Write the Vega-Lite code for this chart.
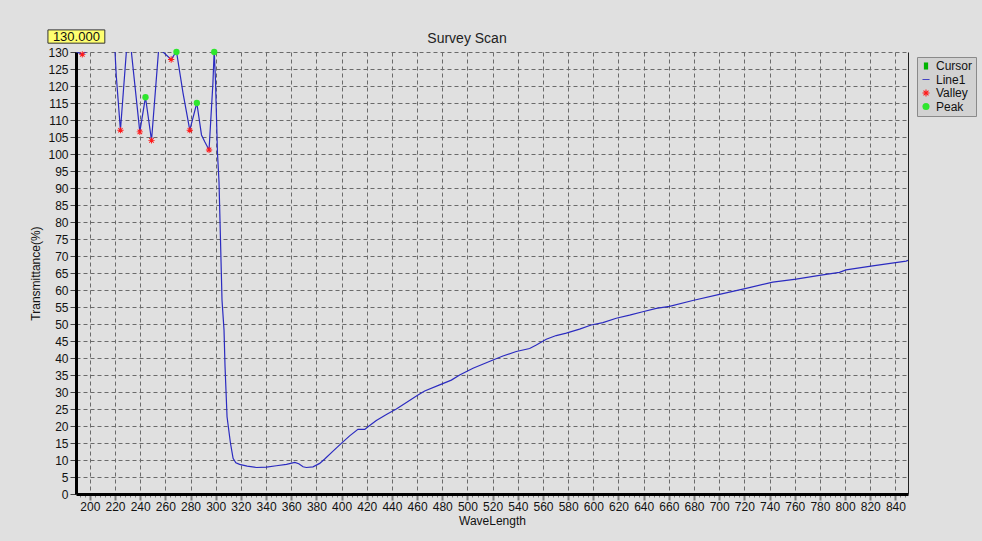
{
  "$schema": "https://vega.github.io/schema/vega-lite/v6.json",
  "autosize": {"type": "none"},
  "width": 832,
  "height": 442,
  "padding": {"left": 76, "top": 52, "right": 74, "bottom": 47},
  "background": "#e0e0e0",
  "config": {
    "font": "Liberation Sans",
    "view": {"stroke": null},
    "axis": {"labelFont": "Liberation Sans", "titleFont": "Liberation Sans", "labelColor": "#111", "titleColor": "#111", "titleFontWeight": "normal"}
  },
  "title": {"text": "Survey Scan", "fontSize": 14, "fontWeight": "normal", "color": "#222", "anchor": "middle", "dx": -25, "dy": 23, "offset": 6},
  "datasets": {
    "curve": [
      {"wl": 189, "t": 130.2},
      {"wl": 191, "t": 129.8},
      {"wl": 194, "t": 129.3},
      {"wl": 197, "t": 130.1},
      {"wl": 200, "t": 132},
      {"wl": 210, "t": 138},
      {"wl": 218, "t": 133},
      {"wl": 220, "t": 130},
      {"wl": 221, "t": 123},
      {"wl": 224.3, "t": 107},
      {"wl": 229, "t": 130},
      {"wl": 231, "t": 134},
      {"wl": 233, "t": 130},
      {"wl": 239.7, "t": 106.5},
      {"wl": 244.2, "t": 116.7},
      {"wl": 249, "t": 104},
      {"wl": 254.5, "t": 130},
      {"wl": 256, "t": 131},
      {"wl": 258.2, "t": 130},
      {"wl": 264.6, "t": 127.8},
      {"wl": 268.8, "t": 130.2},
      {"wl": 274, "t": 118},
      {"wl": 279.4, "t": 107},
      {"wl": 285, "t": 115},
      {"wl": 288.7, "t": 105.6},
      {"wl": 291.3, "t": 103.6},
      {"wl": 294.7, "t": 101.2},
      {"wl": 297.8, "t": 121},
      {"wl": 298.8, "t": 130.5},
      {"wl": 299.8, "t": 121.8},
      {"wl": 300.6, "t": 111},
      {"wl": 301.4, "t": 100.2},
      {"wl": 302.6, "t": 92},
      {"wl": 303.8, "t": 74.7},
      {"wl": 305, "t": 57},
      {"wl": 306.6, "t": 48.2},
      {"wl": 307.4, "t": 37.5},
      {"wl": 309, "t": 22.7},
      {"wl": 311.7, "t": 15},
      {"wl": 313.8, "t": 10.5},
      {"wl": 316, "t": 9.2},
      {"wl": 319, "t": 8.7},
      {"wl": 325, "t": 8.2},
      {"wl": 332.4, "t": 7.8},
      {"wl": 340.3, "t": 7.9},
      {"wl": 348.2, "t": 8.3},
      {"wl": 356.2, "t": 8.7},
      {"wl": 362.8, "t": 9.3},
      {"wl": 366, "t": 8.9},
      {"wl": 369.4, "t": 8.0},
      {"wl": 372, "t": 7.8},
      {"wl": 377.3, "t": 8.0},
      {"wl": 382.6, "t": 9.0},
      {"wl": 386.6, "t": 10.3},
      {"wl": 393.2, "t": 12.6},
      {"wl": 399.8, "t": 14.9},
      {"wl": 406.4, "t": 17.1},
      {"wl": 413, "t": 19.0},
      {"wl": 418.4, "t": 19.0},
      {"wl": 421, "t": 19.8},
      {"wl": 427.6, "t": 21.6},
      {"wl": 435.6, "t": 23.4},
      {"wl": 443.5, "t": 25.0},
      {"wl": 451.5, "t": 26.9},
      {"wl": 460.7, "t": 29.1},
      {"wl": 466, "t": 30.3},
      {"wl": 477.9, "t": 32.1},
      {"wl": 487.2, "t": 33.5},
      {"wl": 493.8, "t": 35},
      {"wl": 504.4, "t": 37},
      {"wl": 520.3, "t": 39.4},
      {"wl": 528.2, "t": 40.6},
      {"wl": 538.8, "t": 41.9},
      {"wl": 549.4, "t": 42.8},
      {"wl": 554.7, "t": 43.8},
      {"wl": 562.6, "t": 45.5},
      {"wl": 570.5, "t": 46.6},
      {"wl": 578.5, "t": 47.3},
      {"wl": 589.1, "t": 48.5},
      {"wl": 598.3, "t": 49.7},
      {"wl": 607.6, "t": 50.4},
      {"wl": 618.2, "t": 51.7},
      {"wl": 628.8, "t": 52.6},
      {"wl": 639.3, "t": 53.6},
      {"wl": 650, "t": 54.6},
      {"wl": 660.5, "t": 55.2},
      {"wl": 679, "t": 56.9},
      {"wl": 700.2, "t": 58.7},
      {"wl": 721.4, "t": 60.5},
      {"wl": 742.6, "t": 62.3},
      {"wl": 761.1, "t": 63.2},
      {"wl": 779.6, "t": 64.3},
      {"wl": 795.5, "t": 65.2},
      {"wl": 800.8, "t": 65.9},
      {"wl": 821.9, "t": 67.1},
      {"wl": 848.5, "t": 68.5},
      {"wl": 850, "t": 68.7}
    ],
    "marks": [
      {"wl": 194, "t": 129.3, "series": "Valley"},
      {"wl": 224.3, "t": 107, "series": "Valley"},
      {"wl": 239.7, "t": 106.5, "series": "Valley"},
      {"wl": 249, "t": 104, "series": "Valley"},
      {"wl": 264.6, "t": 127.8, "series": "Valley"},
      {"wl": 279.4, "t": 107, "series": "Valley"},
      {"wl": 294.7, "t": 101.2, "series": "Valley"},
      {"wl": 244.2, "t": 116.7, "series": "Peak"},
      {"wl": 268.8, "t": 130, "series": "Peak"},
      {"wl": 285, "t": 115, "series": "Peak"},
      {"wl": 298.8, "t": 130, "series": "Peak"}
    ],
    "cursor": [
      {"x0": 166.7, "x1": 211.9, "y0": 132.6, "y1": 136.5, "xm": 189.3, "ym": 134.5, "label": "130.000"}
    ]
  },
  "layer": [
    {
      "data": {"name": "curve"},
      "mark": {"type": "line", "clip": true, "strokeWidth": 1.2, "interpolate": "linear", "color": "#2b2bc0"},
      "encoding": {
        "x": {
          "field": "wl", "type": "quantitative",
          "scale": {"domain": [189, 850], "nice": false, "zero": false},
          "axis": {
            "title": "WaveLength", "titleFontSize": 12, "titlePadding": 3,
            "values": {"expr": "sequence(192, 852, 4)"},
            "tickCount": 1000, "format": "d",
            "labelExpr": "datum.value % 20 === 0 ? datum.label : ''",
            "labelOverlap": false, "labelBound": false, "labelFontSize": 12, "labelPadding": 1,
            "tickSize": {"condition": {"test": "datum.value % 20 === 0", "value": 6}, "value": 3},
            "tickWidth": {"condition": {"test": "datum.value % 20 === 0", "value": 2}, "value": 1},
            "tickColor": "#808080",
            "grid": true,
            "gridOpacity": {"condition": {"test": "datum.value % 20 === 0", "value": 1}, "value": 0},
            "gridColor": "#6a6a6a", "gridDash": [4, 3], "gridWidth": 1,
            "domainColor": "#000", "domainWidth": 3
          }
        },
        "y": {
          "field": "t", "type": "quantitative",
          "scale": {"domain": [0, 130], "nice": false, "zero": true},
          "axis": {
            "title": "Transmittance(%)", "titleFontSize": 12, "titlePadding": 5,
            "values": {"expr": "sequence(0, 135, 5)"},
            "tickCount": 1000, "format": "d",
            "labelFontSize": 12, "labelPadding": 2,
            "tickSize": 6, "tickColor": "#444", "tickWidth": 1,
            "grid": true, "gridColor": "#6a6a6a", "gridDash": [4, 3], "gridWidth": 1,
            "domainColor": "#000", "domainWidth": 3
          }
        }
      }
    },
    {
      "data": {"name": "marks"},
      "mark": {"type": "point", "filled": true, "opacity": 1},
      "encoding": {
        "x": {"field": "wl", "type": "quantitative"},
        "y": {"field": "t", "type": "quantitative", "axis": {"orient": "right", "labels": false, "ticks": false, "grid": false, "title": null, "domainColor": "#222", "domainWidth": 1}},
        "color": {
          "field": "series", "type": "nominal",
          "scale": {"domain": ["Cursor", "Line1", "Valley", "Peak"], "range": ["#00b400", "#2b2bc0", "#ff1a1a", "#2ee62e"]},
          "legend": {
            "orient": "none", "legendX": 841, "legendY": 5, "title": null,
            "padding": 3, "rowPadding": 1.5, "labelFontSize": 12, "labelFont": "Liberation Sans", "labelOffset": 4,
            "symbolSize": 50, "fillColor": "#d2d2d2", "strokeColor": "#8a8a8a",
            "labelColor": "#111"
          }
        },
        "shape": {
          "field": "series", "type": "nominal",
          "scale": {"domain": ["Cursor", "Line1", "Valley", "Peak"], "range": ["M-0.6,-1H0.6V1H-0.6Z", "M-1,-0.12H1V0.12H-1Z", "M-1,-0.15H1V0.15H-1Z M-0.15,-1H0.15V1H-0.15Z M-0.81,-0.6L-0.6,-0.81L0.81,0.6L0.6,0.81Z M0.6,-0.81L0.81,-0.6L-0.6,0.81L-0.81,0.6Z", "circle"]},
          "legend": {
            "orient": "none", "legendX": 841, "legendY": 5, "title": null,
            "padding": 3, "rowPadding": 1.5, "labelFontSize": 12, "labelFont": "Liberation Sans", "labelOffset": 4,
            "symbolSize": 50, "fillColor": "#d2d2d2", "strokeColor": "#8a8a8a",
            "labelColor": "#111"
          }
        },
        "size": {"value": 40}
      }
    },
    {
      "data": {"name": "cursor"},
      "mark": {"type": "rect", "fill": "#ffff70", "stroke": "#333", "strokeWidth": 1},
      "encoding": {
        "x": {"field": "x0", "type": "quantitative"},
        "x2": {"field": "x1"},
        "y": {"field": "y0", "type": "quantitative", "axis": null},
        "y2": {"field": "y1"}
      }
    },
    {
      "data": {"name": "cursor"},
      "mark": {"type": "text", "fontSize": 13, "color": "#111", "font": "Liberation Sans"},
      "encoding": {
        "x": {"field": "xm", "type": "quantitative"},
        "y": {"field": "ym", "type": "quantitative", "axis": null},
        "text": {"field": "label"}
      }
    }
  ],
  "resolve": {"scale": {"y": "shared"}, "axis": {"y": "independent"}}
}
